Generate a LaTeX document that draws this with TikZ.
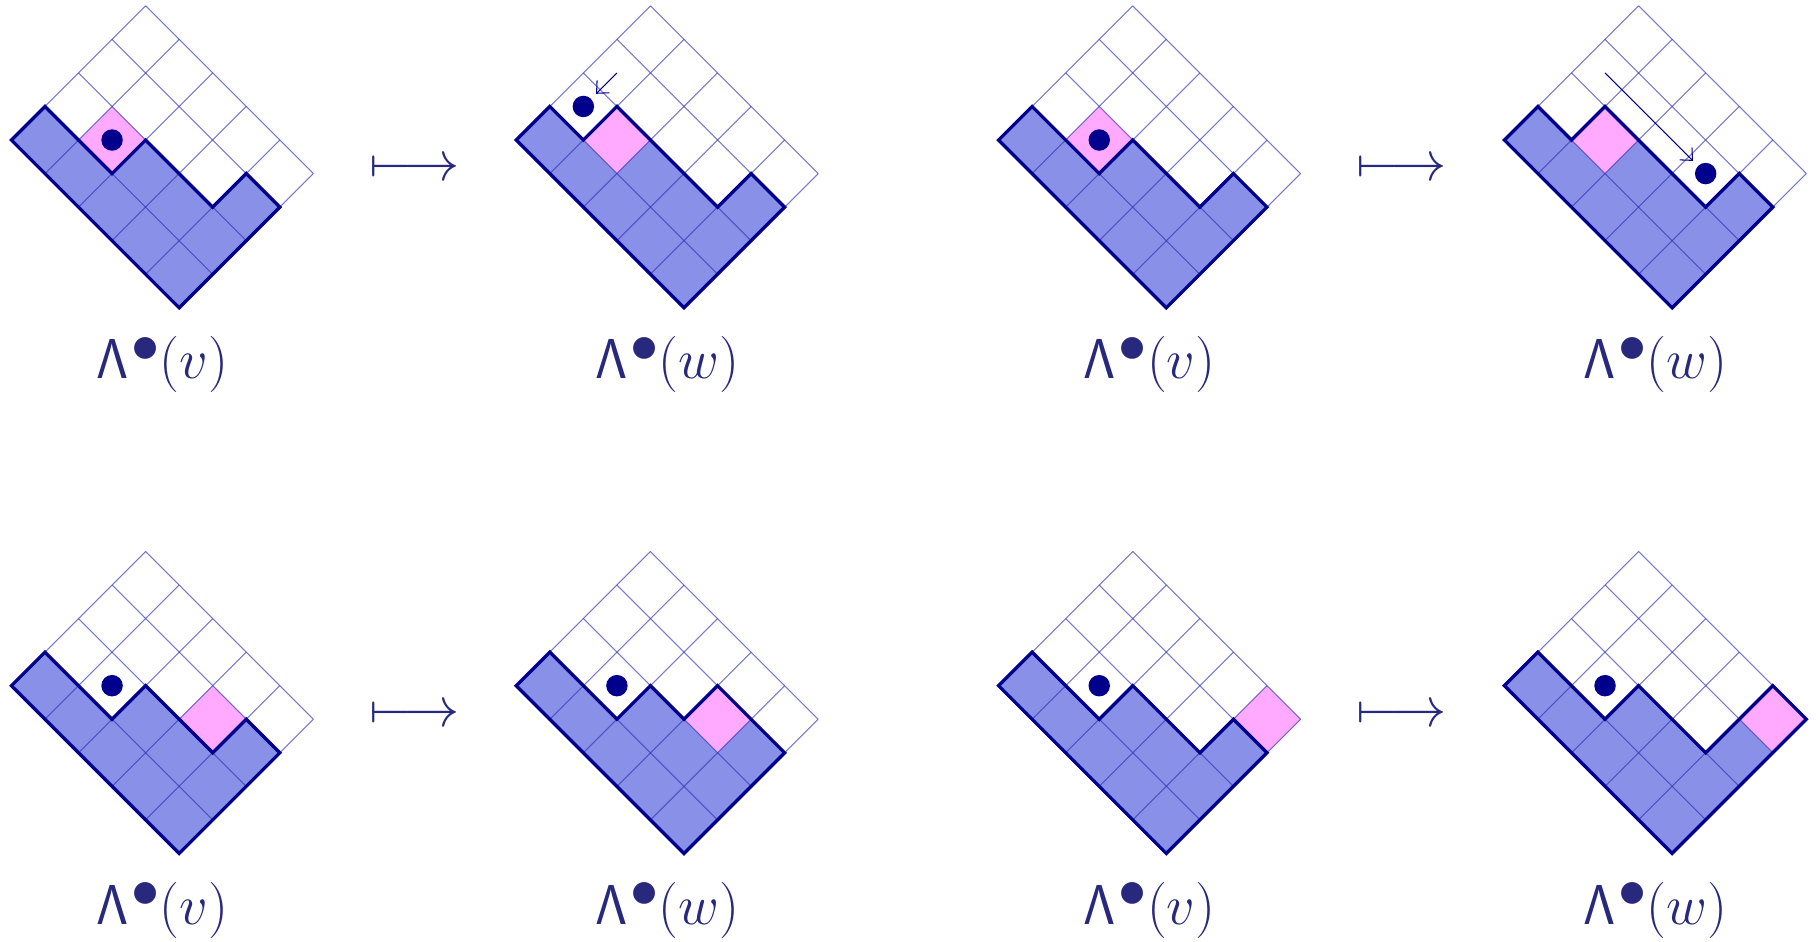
\RequirePackage{fix-cm}
\documentclass[tikz,border=0pt]{standalone}
\usepackage{amsmath,amssymb}
\usepackage{tikz}
\usetikzlibrary{arrows.meta}
\definecolor{ymnavy}{HTML}{00008C}
\definecolor{ymfill}{HTML}{8890E8}
\definecolor{ympink}{HTML}{FFAAFF}
\definecolor{ymgrid}{HTML}{3030B0}
\definecolor{ymink}{HTML}{28287D}

\begin{document}
\begin{tikzpicture}[font=\fontsize{20.74}{25}\selectfont,text=ymink,
  diag/.style={x={(.5cm,.5cm)},y={(.5cm,-.5cm)}},
  body/.style={fill=ymfill},
  hit/.style={fill=ympink},
  cellgrid/.style={draw=ymgrid,draw opacity=.65,line width=.45pt},
  rim/.style={draw=ymnavy,line width=1.4pt},
  dot/.style={circle,fill=ymnavy,inner sep=0pt,minimum size=3.2mm},
  move/.style={draw=ymnavy,line width=.45pt,-{Straight Barb[length=1.4mm,width=2.6mm]},shorten >=1mm},
  lab/.style={anchor=base,inner sep=0pt}]
\path[use as bounding box] (0,0) rectangle (27.094,14.024);

% top row, first pair
\begin{scope}[shift={(0.170,11.937)},diag]
  \fill[body] (0,0)--(1,0)--(1,2)--(2,2)--(2,4)--(3,4)--(3,5)--(0,5)--cycle;
  \fill[hit] (1,1)--(2,1)--(2,2)--(1,2)--cycle;
  \foreach \i in {0,...,4} \draw[cellgrid] (\i,0)--(\i,5);
  \foreach \j in {0,...,5} \draw[cellgrid] (0,\j)--(4,\j);
  \draw[rim] (0,0)--(1,0)--(1,2)--(2,2)--(2,4)--(3,4)--(3,5)--(0,5)--cycle;
  \node[dot] (va-dot) at (1.5,1.5) {};
\end{scope}
\begin{scope}[shift={(7.694,11.937)},diag]
  \fill[body] (0,0)--(1,0)--(1,1)--(2,1)--(2,4)--(3,4)--(3,5)--(0,5)--cycle;
  \fill[hit] (1,1)--(2,1)--(2,2)--(1,2)--cycle;
  \foreach \i in {0,...,4} \draw[cellgrid] (\i,0)--(\i,5);
  \foreach \j in {0,...,5} \draw[cellgrid] (0,\j)--(4,\j);
  \draw[rim] (0,0)--(1,0)--(1,1)--(2,1)--(2,4)--(3,4)--(3,5)--(0,5)--cycle;
  \node[dot] (wa-dot) at (1.5,.5) {};
  \coordinate (wa-from) at (2.5,.5);
  \draw[move] (wa-from) -- (wa-dot);
\end{scope}

% top row, second pair
\begin{scope}[shift={(14.882,11.937)},diag]
  \fill[body] (0,0)--(1,0)--(1,2)--(2,2)--(2,4)--(3,4)--(3,5)--(0,5)--cycle;
  \fill[hit] (1,1)--(2,1)--(2,2)--(1,2)--cycle;
  \foreach \i in {0,...,4} \draw[cellgrid] (\i,0)--(\i,5);
  \foreach \j in {0,...,5} \draw[cellgrid] (0,\j)--(4,\j);
  \draw[rim] (0,0)--(1,0)--(1,2)--(2,2)--(2,4)--(3,4)--(3,5)--(0,5)--cycle;
  \node[dot] (vb-dot) at (1.5,1.5) {};
\end{scope}
\begin{scope}[shift={(22.420,11.937)},diag]
  \fill[body] (0,0)--(1,0)--(1,1)--(2,1)--(2,4)--(3,4)--(3,5)--(0,5)--cycle;
  \fill[hit] (1,1)--(2,1)--(2,2)--(1,2)--cycle;
  \foreach \i in {0,...,4} \draw[cellgrid] (\i,0)--(\i,5);
  \foreach \j in {0,...,5} \draw[cellgrid] (0,\j)--(4,\j);
  \draw[rim] (0,0)--(1,0)--(1,1)--(2,1)--(2,4)--(3,4)--(3,5)--(0,5)--cycle;
  \node[dot] (wb-dot) at (2.5,3.5) {};
  \coordinate (wb-from) at (2.5,.5);
  \draw[move] (wb-from) -- (wb-dot);
\end{scope}

% bottom row, first pair
\begin{scope}[shift={(0.170,3.805)},diag]
  \fill[body] (0,0)--(1,0)--(1,2)--(2,2)--(2,4)--(3,4)--(3,5)--(0,5)--cycle;
  \fill[hit] (2,3)--(3,3)--(3,4)--(2,4)--cycle;
  \foreach \i in {0,...,4} \draw[cellgrid] (\i,0)--(\i,5);
  \foreach \j in {0,...,5} \draw[cellgrid] (0,\j)--(4,\j);
  \draw[rim] (0,0)--(1,0)--(1,2)--(2,2)--(2,4)--(3,4)--(3,5)--(0,5)--cycle;
  \node[dot] (vc-dot) at (1.5,1.5) {};
\end{scope}
\begin{scope}[shift={(7.694,3.805)},diag]
  \fill[body] (0,0)--(1,0)--(1,2)--(2,2)--(2,3)--(3,3)--(3,5)--(0,5)--cycle;
  \fill[hit] (2,3)--(3,3)--(3,4)--(2,4)--cycle;
  \foreach \i in {0,...,4} \draw[cellgrid] (\i,0)--(\i,5);
  \foreach \j in {0,...,5} \draw[cellgrid] (0,\j)--(4,\j);
  \draw[rim] (0,0)--(1,0)--(1,2)--(2,2)--(2,3)--(3,3)--(3,5)--(0,5)--cycle;
  \node[dot] (wc-dot) at (1.5,1.5) {};
\end{scope}

% bottom row, second pair
\begin{scope}[shift={(14.882,3.805)},diag]
  \fill[body] (0,0)--(1,0)--(1,2)--(2,2)--(2,4)--(3,4)--(3,5)--(0,5)--cycle;
  \fill[hit] (3,4)--(4,4)--(4,5)--(3,5)--cycle;
  \foreach \i in {0,...,4} \draw[cellgrid] (\i,0)--(\i,5);
  \foreach \j in {0,...,5} \draw[cellgrid] (0,\j)--(4,\j);
  \draw[rim] (0,0)--(1,0)--(1,2)--(2,2)--(2,4)--(3,4)--(3,5)--(0,5)--cycle;
  \node[dot] (vd-dot) at (1.5,1.5) {};
\end{scope}
\begin{scope}[shift={(22.420,3.805)},diag]
  \fill[body] (0,0)--(1,0)--(1,2)--(2,2)--(2,4)--(4,4)--(4,5)--(0,5)--cycle;
  \fill[hit] (3,4)--(4,4)--(4,5)--(3,5)--cycle;
  \foreach \i in {0,...,4} \draw[cellgrid] (\i,0)--(\i,5);
  \foreach \j in {0,...,5} \draw[cellgrid] (0,\j)--(4,\j);
  \draw[rim] (0,0)--(1,0)--(1,2)--(2,2)--(2,4)--(4,4)--(4,5)--(0,5)--cycle;
  \node[dot] (wd-dot) at (1.5,1.5) {};
\end{scope}

% labels and maps
\node[lab] (va-lab) at (2.420,8.376) {\scalebox{1.15}{$\mathsf{\Lambda}\mkern1mu\mbox{\raisebox{6.2pt}{$\bullet$}}(v)$}};
\node[lab] (wa-lab) at (9.944,8.376) {\scalebox{1.15}{$\mathsf{\Lambda}\mkern1mu\mbox{\raisebox{6.2pt}{$\bullet$}}(w)$}};
\node[lab] (vb-lab) at (17.132,8.376) {\scalebox{1.15}{$\mathsf{\Lambda}\mkern1mu\mbox{\raisebox{6.2pt}{$\bullet$}}(v)$}};
\node[lab] (wb-lab) at (24.670,8.376) {\scalebox{1.15}{$\mathsf{\Lambda}\mkern1mu\mbox{\raisebox{6.2pt}{$\bullet$}}(w)$}};
\node[lab] (vc-lab) at (2.420,0.243) {\scalebox{1.15}{$\mathsf{\Lambda}\mkern1mu\mbox{\raisebox{6.2pt}{$\bullet$}}(v)$}};
\node[lab] (wc-lab) at (9.944,0.243) {\scalebox{1.15}{$\mathsf{\Lambda}\mkern1mu\mbox{\raisebox{6.2pt}{$\bullet$}}(w)$}};
\node[lab] (vd-lab) at (17.132,0.243) {\scalebox{1.15}{$\mathsf{\Lambda}\mkern1mu\mbox{\raisebox{6.2pt}{$\bullet$}}(v)$}};
\node[lab] (wd-lab) at (24.670,0.243) {\scalebox{1.15}{$\mathsf{\Lambda}\mkern1mu\mbox{\raisebox{6.2pt}{$\bullet$}}(w)$}};
\node[lab] (a-map) at (6.180,11.330) {\scalebox{1.15}{$\longmapsto$}};
\node[lab] (b-map) at (20.890,11.330) {\scalebox{1.15}{$\longmapsto$}};
\node[lab] (c-map) at (6.180,3.198) {\scalebox{1.15}{$\longmapsto$}};
\node[lab] (d-map) at (20.890,3.198) {\scalebox{1.15}{$\longmapsto$}};
\end{tikzpicture}
\end{document}
